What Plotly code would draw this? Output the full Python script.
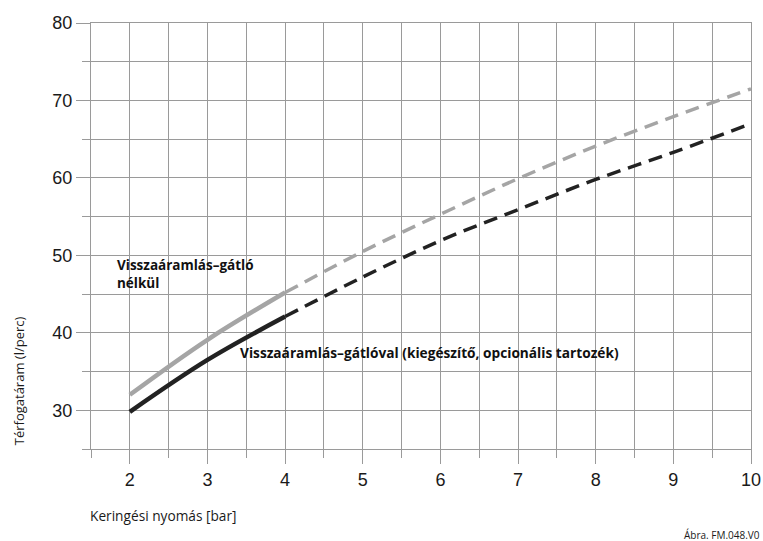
import plotly.graph_objects as go

# Circulation pressure [bar] and flow rate [l/min]
pressure = [2, 3, 4, 5, 6, 7, 8, 9, 10]
flow_without_valve = [32.0, 39.1, 45.2, 50.5, 55.3, 59.9, 64.1, 67.9, 71.5]
flow_with_valve = [29.8, 36.5, 42.1, 47.2, 51.9, 55.9, 59.8, 63.3, 67.0]

x_tickvals = [2, 3, 4, 5, 6, 7, 8, 9, 10]
y_tickvals = [30, 40, 50, 60, 70, 80]

SOLID_END = 3  # index of 4 bar: measured range ends here, extrapolation is dashed

GREY = "#a5a5a5"
BLACK = "#222222"
GRID = "#9a9a9a"
NUM_FONT = "Liberation Sans"
TXT_FONT = "Open Sans"

fig = go.Figure()

for yvals, color in [(flow_without_valve, GREY), (flow_with_valve, BLACK)]:
    fig.add_trace(go.Scatter(
        x=pressure[:SOLID_END], y=yvals[:SOLID_END], mode="lines",
        line=dict(color=color, width=4.5, shape="spline"), showlegend=False,
    ))
    fig.add_trace(go.Scatter(
        x=pressure[SOLID_END - 1:], y=yvals[SOLID_END - 1:], mode="lines",
        line=dict(color=color, width=3.5, shape="spline", dash="14px,8px"),
        showlegend=False,
    ))

axis_common = dict(
    showgrid=True, gridcolor=GRID, gridwidth=1.3,
    showline=True, linecolor=GRID, linewidth=1.3, mirror=True,
    ticks="outside", ticklen=14, tickcolor=GRID, tickwidth=1.3,
    tickfont=dict(family=NUM_FONT, size=18, color="#1a1a1a"),
    zeroline=False, fixedrange=True, automargin=False,
)

fig.update_xaxes(
    range=[1.5, 10], tickmode="array", tickvals=x_tickvals,
    minor=dict(tick0=1.5, dtick=0.5, ticks="outside", ticklen=8,
               tickcolor=GRID, tickwidth=1.3, showgrid=True,
               gridcolor=GRID, gridwidth=1.3),
    **axis_common,
)
fig.update_yaxes(
    range=[25, 80], tickmode="array", tickvals=y_tickvals,
    minor=dict(tick0=25, dtick=5, ticks="outside", ticklen=8,
               tickcolor=GRID, tickwidth=1.3, showgrid=True,
               gridcolor=GRID, gridwidth=1.3),
    **axis_common,
)

annotations = [
    dict(text="<b>Visszaáramlás–gátló<br>nélkül</b>", x=1.81, y=47.6,
         xref="x", yref="y", xanchor="left", yanchor="middle", align="left",
         showarrow=False, font=dict(family=TXT_FONT, size=13.5, color="#111")),
    dict(text="<b>Visszaáramlás–gátlóval (kiegészítő, opcionális tartozék)</b>",
         x=3.39, y=37.5, xref="x", yref="y", xanchor="left", yanchor="middle",
         showarrow=False, font=dict(family=TXT_FONT, size=13.7, color="#111")),
    dict(text="Keringési nyomás [bar]", x=-0.005, y=-0.155,
         xref="paper", yref="paper", xanchor="left", yanchor="middle",
         showarrow=False, font=dict(family=TXT_FONT, size=13.7, color="#1a1a1a")),
    dict(text="Térfogatáram (l/perc)", x=-0.11, y=0.16,
         xref="paper", yref="paper", xanchor="center", yanchor="middle",
         textangle=-90, showarrow=False,
         font=dict(family=TXT_FONT, size=13, color="#1a1a1a")),
    dict(text="Ábra. FM.048.V0", x=1.017, y=-0.203,
         xref="paper", yref="paper", xanchor="right", yanchor="middle",
         showarrow=False, font=dict(family=TXT_FONT, size=10, color="#1a1a1a")),
]

fig.update_layout(
    width=763, height=541,
    margin=dict(l=91, r=12, t=23, b=92),
    plot_bgcolor="white", paper_bgcolor="white",
    annotations=annotations,
)

fig.write_html("out.html")
